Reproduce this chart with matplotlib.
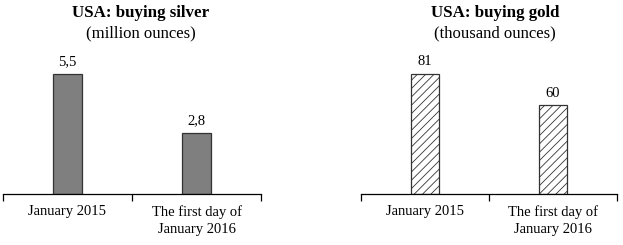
import matplotlib
matplotlib.use('Agg')
import matplotlib.pyplot as plt

plt.rcParams['font.family'] = ['Liberation Serif', 'DejaVu Serif']
plt.rcParams['hatch.linewidth'] = 0.6
plt.rcParams['hatch.color'] = '#3a3a3a'

categories = ['January 2015', 'The first day of\nJanuary 2016']
silver_values = [5.5, 2.8]
silver_labels = ['5,5', '2,8']
gold_values = [81, 60]
gold_labels = ['81', '60']


def draw_panel(ax, values, labels, title, subtitle, face, hatch, title_x):
    x = range(len(values))
    ax.bar(x, values, width=0.22, color=face, edgecolor='#333333',
           linewidth=0.9, hatch=hatch)
    for xi, v, lab in zip(x, values, labels):
        ax.annotate(lab, (xi, v), xytext=(0, 4), textcoords='offset points',
                    ha='center', va='bottom', fontsize=10.5)
    ax.set_xlim(-0.5, len(values) - 0.5)
    ax.set_ylim(0, max(values) * 140 / 120)
    for s in ['top', 'right', 'left']:
        ax.spines[s].set_visible(False)
    ax.spines['bottom'].set_linewidth(0.9)
    ax.set_yticks([])
    ax.set_xticks(list(x))
    ax.set_xticklabels(categories, fontsize=10.5, linespacing=1.4)
    ax.tick_params(axis='x', which='major', length=0, pad=8)
    ax.set_xticks([-0.5, 0.5, 1.5], minor=True)
    ax.tick_params(axis='x', which='minor', length=5, width=0.9,
                   direction='out')
    fig = ax.figure
    fig.text(title_x, 1 - 13 / 245, title, ha='center', va='center',
             fontsize=12.2, fontweight='bold')
    fig.text(title_x, 1 - 33 / 245, subtitle, ha='center', va='center',
             fontsize=12)


fig = plt.figure(figsize=(6.23, 2.45), dpi=100)
ax1 = fig.add_axes([3 / 623, 51 / 245, 258 / 623, 140 / 245])
ax2 = fig.add_axes([361 / 623, 51 / 245, 256 / 623, 140 / 245])

draw_panel(ax1, silver_values, silver_labels, 'USA: buying silver',
           '(million ounces)', '#7f7f7f', None, 141 / 623)
draw_panel(ax2, gold_values, gold_labels, 'USA: buying gold',
           '(thousand ounces)', 'white', '////', 495 / 623)

fig.savefig('out.png', dpi=100)
